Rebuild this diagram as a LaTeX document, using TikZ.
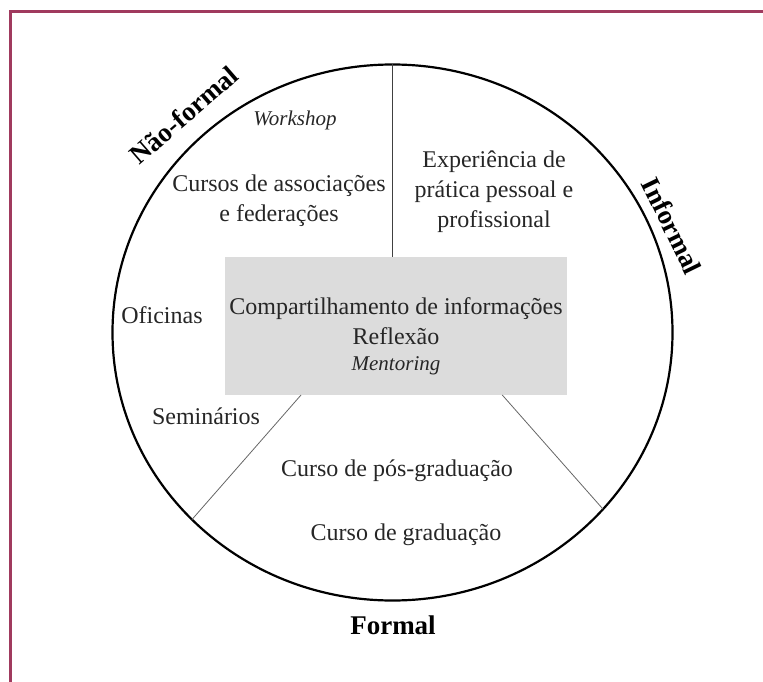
\documentclass[tikz,border=0pt]{standalone}
\usepackage{fontspec}
\setmainfont{Liberation Serif}
\usetikzlibrary{shapes.geometric}
\definecolor{framered}{RGB}{160,58,94}
\definecolor{boxgray}{RGB}{220,220,220}

\begin{document}
\begin{tikzpicture}[x=1pt,y=-1pt,
  txt/.style={align=center,inner sep=0pt,text=black!85,font=\fontsize{24}{30}\selectfont},
  itx/.style={txt,font=\fontsize{21}{30}\selectfont\itshape},
  kind/.style={inner sep=0pt,font=\fontsize{27}{32}\selectfont\bfseries},
  divider/.style={draw=black!60,line width=0.8pt}]
\useasboundingbox (0,0) rectangle (763,682);
\draw[framered,line width=3pt] (10,682) -- (10,12) -- (763,12);
% circle and centre box
\node at (392.5,332.5)[ellipse,draw=black,line width=2.2pt,minimum width=560pt,minimum height=536pt,inner sep=0pt,outer sep=0pt](wheel){};
\node at (396,326)[rectangle,fill=boxgray,minimum width=342pt,minimum height=138pt,inner sep=0pt,outer sep=0pt](core){};
\draw[draw=black!75,line width=1.2pt] (wheel.north) -- (core.north -| wheel.north);
\draw[divider] (core.216.3) -- (wheel.223.8);
\draw[divider] (core.327.7) -- (wheel.320.7);
% sector labels
\node at (184,115)[kind,rotate=41](nonformal){Não-formal};
\node at (672,226)[kind,rotate=-64](informal){Informal};
\node at (393,625)[kind](formal){Formal};
% contents
\node at (295,120)[itx](workshop){Workshop};
\node at (279,201)[txt](assoc){Cursos de associações\\e federações};
\node at (494,192)[txt](practice){Experiência de\\prática pessoal e\\profissional};
\node at (162,315)[txt](oficinas){Oficinas};
\node at (206,416)[txt](seminars){Seminários};
\node at (396,321)[txt](share){Compartilhamento de informações\\Reflexão};
\node at (396,366)[itx](mentoring){Mentoring};
\node at (397,471)[txt](postgrad){Curso de pós-graduação};
\node at (406,535)[txt](grad){Curso de graduação};
\end{tikzpicture}
\end{document}
